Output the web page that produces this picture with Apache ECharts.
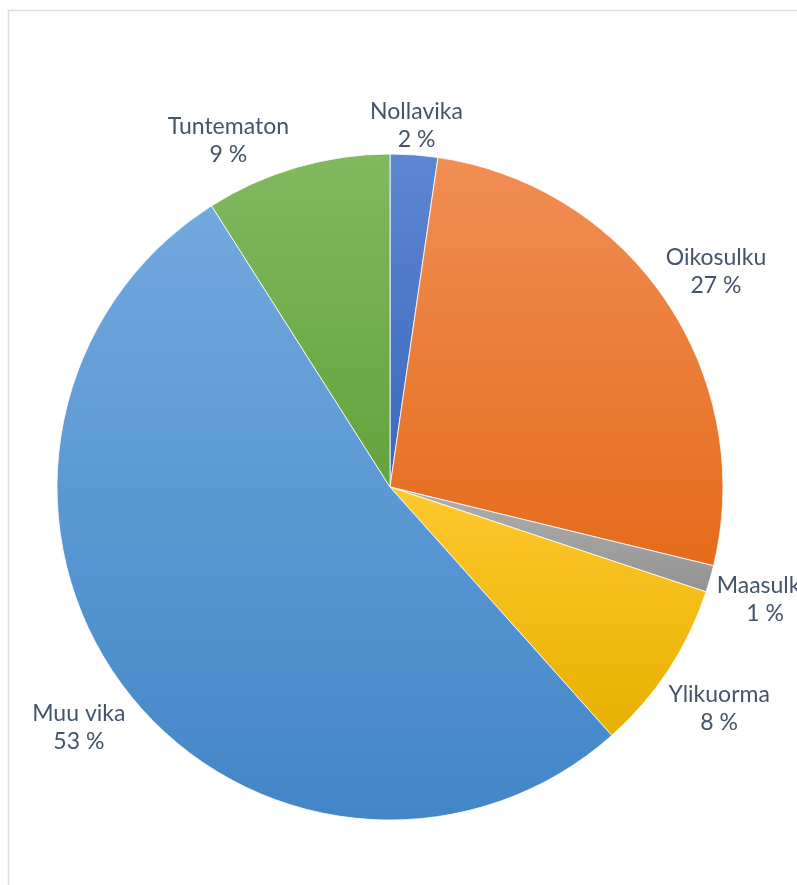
<!DOCTYPE html>
<html>
<head>
<meta charset="utf-8">
<script src="https://cdn.jsdelivr.net/npm/echarts@6/dist/echarts.min.js"></script>
<style>html,body{margin:0;padding:0;background:#fff;}#c{width:797px;height:885px;}</style>
</head>
<body>
<div id="c"></div>
<script>
var categories = ['Nollavika', 'Oikosulku', 'Maasulku', 'Ylikuorma', 'Muu vika', 'Tuntematon'];
var values = [2.3, 26.5, 1.3, 8.3, 52.6, 9.0];
var topColors = ['#5E86D1', '#F18E55', '#AFAFAF', '#FFC82E', '#72A9DE', '#82B960'];
var bottomColors = ['#3A67BE', '#E46C1B', '#939393', '#E8B000', '#4286C8', '#64A23A'];

var CX = 390, CY = 487, R = 333, GAP = 3, LABEL_PAD_X = 80, LABEL_PAD_Y = 4, BASELINE_SHIFT = 5;
var total = values.reduce(function (a, b) { return a + b; }, 0);
var midAngles = [];
(function () {
  var acc = 0;
  for (var i = 0; i < values.length; i++) {
    midAngles.push((acc + values[i] / 2) / total * 2 * Math.PI);
    acc += values[i];
  }
})();

var placed = {};
function placeAt(a, w, h) {
  var ux = Math.sin(a), uy = -Math.cos(a);
  var ext = Math.abs(ux) * w / 2 + Math.abs(uy) * h / 2;
  var d = R + GAP + ext;
  var x = CX + ux * d, y = CY + uy * d;
  return { x: x, y: y, x0: x - w / 2, x1: x + w / 2, y0: y - h / 2, y1: y + h / 2, a: a };
}
function overlaps(p, q) {
  return !(p.x1 + LABEL_PAD_X < q.x0 || q.x1 + LABEL_PAD_X < p.x0 ||
           p.y1 + LABEL_PAD_Y < q.y0 || q.y1 + LABEL_PAD_Y < p.y0);
}

var chart = echarts.init(document.getElementById('c'), null, { renderer: 'canvas' });
chart.setOption({
  animation: false,
  backgroundColor: '#ffffff',
  graphic: [{
    type: 'rect',
    shape: { x: 8.5, y: 10.5, width: 1000, height: 1000 },
    style: { fill: 'none', stroke: '#DADDE6', lineWidth: 1.5 },
    silent: true
  }],
  series: [{
    type: 'pie',
    center: [CX, CY],
    radius: [0, R],
    startAngle: 90,
    clockwise: true,
    avoidLabelOverlap: false,
    itemStyle: { borderColor: '#ffffff', borderWidth: 0.8 },
    label: {
      show: true,
      position: 'outside',
      formatter: function (p) { return p.name + '\n' + Math.round(p.percent) + ' %'; },
      fontFamily: 'Lato',
      fontSize: 23,
      lineHeight: 28,
      color: '#44546A'
    },
    labelLine: { show: false },
    labelLayout: function (params) {
      var i = params.dataIndex;
      var w = params.labelRect.width, h = params.labelRect.height;
      var a = midAngles[i];
      var p = placeAt(a, w, h);
      for (var iter = 0; iter < 300; iter++) {
        var hit = null;
        for (var k in placed) {
          if (+k < i && overlaps(p, placed[k])) { hit = placed[k]; break; }
        }
        if (!hit) break;
        var diff = Math.atan2(Math.sin(a - hit.a), Math.cos(a - hit.a));
        a += (diff >= 0 ? 1 : -1) * Math.PI / 360;
        p = placeAt(a, w, h);
      }
      placed[i] = p;
      return { x: p.x, y: p.y + BASELINE_SHIFT, align: 'center', verticalAlign: 'middle' };
    },
    emphasis: { disabled: true },
    data: categories.map(function (name, i) {
      return {
        name: name,
        value: values[i],
        itemStyle: {
          color: new echarts.graphic.LinearGradient(0, 0, 0, 1, [
            { offset: 0, color: topColors[i] },
            { offset: 1, color: bottomColors[i] }
          ])
        }
      };
    })
  }]
});
</script>
</body>
</html>
